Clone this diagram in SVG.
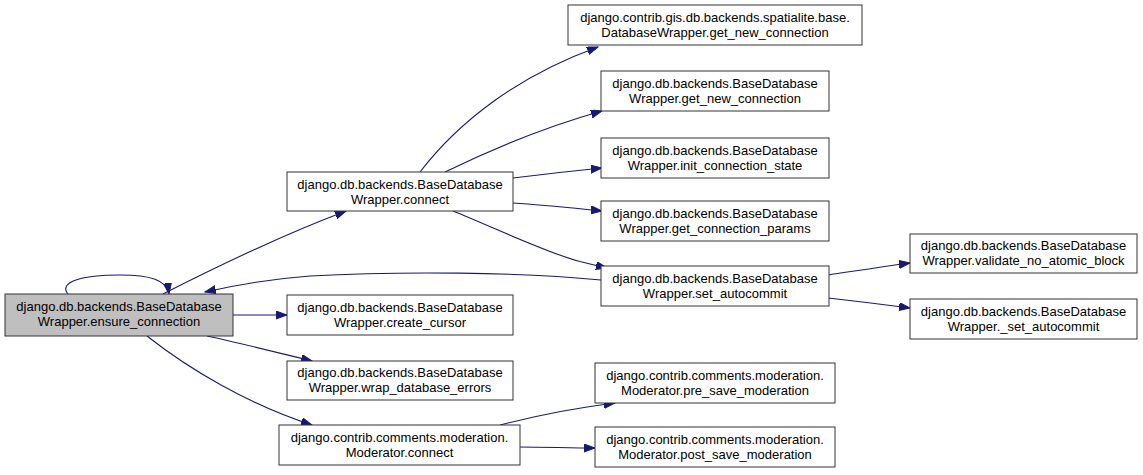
<svg xmlns="http://www.w3.org/2000/svg" width="1143" height="475" viewBox="0 0 1143 475">
<defs>
<marker id="ah" markerUnits="userSpaceOnUse" markerWidth="12" markerHeight="9" refX="11" refY="4" orient="auto">
<path d="M0,0 L11,4 L0,8 z" fill="#191970" stroke="#191970" stroke-width="1"/>
</marker>
<style>
.n rect{fill:#fff;stroke:#333;stroke-width:1}
.n.g rect{fill:#bfbfbf}
.n text{font-family:"Liberation Sans",Arial,sans-serif;font-size:13px;fill:#000;text-anchor:middle}
#edges path{fill:none;stroke:#191970;stroke-width:1.1;marker-end:url(#ah)}
</style>
</defs>
<rect width="1143" height="475" fill="#fff"/>
<g id="edges">
<path d="M68,294 C58,282 82,275 120,275 C150,275 167,280 169,294"/>
<path d="M163,294 C210,270 280,236 346,211"/>
<path d="M601,280 C520,272 400,271 310,276 C270,279 240,284 205,292"/>
<path d="M233,315 L287,315"/>
<path d="M207,336 C240,343 275,352 312,361"/>
<path d="M147,336 C190,370 250,405 312,425"/>
<path d="M420,172 C460,120 520,75 598,47"/>
<path d="M445,172 C490,150 545,127 602,111"/>
<path d="M513,178 C545,174 572,171 602,168"/>
<path d="M513,203 C545,205 572,208 602,211"/>
<path d="M453,211 C495,228 545,252 578,261 C590,264 598,266 607,268"/>
<path d="M828,275 C855,271 880,267 910,263"/>
<path d="M828,298 C855,301 880,304 910,308"/>
<path d="M500,425 C535,416 575,408 615,403"/>
<path d="M520,447 C545,447 570,448 595,448"/>
</g>
<g id="ensure_connection" class="n g"><rect x="5" y="294" width="228" height="42"/><text x="119" y="311">django.db.backends.BaseDatabase</text><text x="119" y="326">Wrapper.ensure_connection</text></g>
<g id="connect" class="n"><rect x="287" y="172" width="226" height="39"/><text x="400" y="188.5">django.db.backends.BaseDatabase</text><text x="400" y="203.5">Wrapper.connect</text></g>
<g id="spatialite_get_new_connection" class="n"><rect x="568" y="5" width="294" height="40"/><text x="715" y="21.5">django.contrib.gis.db.backends.spatialite.base.</text><text x="715" y="36.5">DatabaseWrapper.get_new_connection</text></g>
<g id="get_new_connection" class="n"><rect x="601" y="71" width="228" height="40"/><text x="715" y="87.5">django.db.backends.BaseDatabase</text><text x="715" y="102.5">Wrapper.get_new_connection</text></g>
<g id="init_connection_state" class="n"><rect x="601" y="138" width="228" height="40"/><text x="715" y="154.5">django.db.backends.BaseDatabase</text><text x="715" y="169.5">Wrapper.init_connection_state</text></g>
<g id="get_connection_params" class="n"><rect x="601" y="201" width="228" height="40"/><text x="715" y="217.5">django.db.backends.BaseDatabase</text><text x="715" y="232.5">Wrapper.get_connection_params</text></g>
<g id="set_autocommit" class="n"><rect x="601" y="266" width="228" height="40"/><text x="715" y="282.5">django.db.backends.BaseDatabase</text><text x="715" y="297.5">Wrapper.set_autocommit</text></g>
<g id="validate_no_atomic_block" class="n"><rect x="910" y="234" width="227" height="39"/><text x="1023.5" y="250">django.db.backends.BaseDatabase</text><text x="1023.5" y="265">Wrapper.validate_no_atomic_block</text></g>
<g id="_set_autocommit" class="n"><rect x="910" y="299" width="227" height="40"/><text x="1023.5" y="315.5">django.db.backends.BaseDatabase</text><text x="1023.5" y="330.5">Wrapper._set_autocommit</text></g>
<g id="create_cursor" class="n"><rect x="287" y="295" width="226" height="40"/><text x="400" y="311.5">django.db.backends.BaseDatabase</text><text x="400" y="326.5">Wrapper.create_cursor</text></g>
<g id="wrap_database_errors" class="n"><rect x="287" y="361" width="226" height="39"/><text x="400" y="377">django.db.backends.BaseDatabase</text><text x="400" y="392">Wrapper.wrap_database_errors</text></g>
<g id="moderator_connect" class="n"><rect x="279" y="425" width="241" height="40"/><text x="399.5" y="441.5">django.contrib.comments.moderation.</text><text x="399.5" y="456.5">Moderator.connect</text></g>
<g id="pre_save_moderation" class="n"><rect x="595" y="363" width="240" height="40"/><text x="715" y="379.5">django.contrib.comments.moderation.</text><text x="715" y="394.5">Moderator.pre_save_moderation</text></g>
<g id="post_save_moderation" class="n"><rect x="595" y="427" width="240" height="40"/><text x="715" y="443.5">django.contrib.comments.moderation.</text><text x="715" y="458.5">Moderator.post_save_moderation</text></g>
</svg>
